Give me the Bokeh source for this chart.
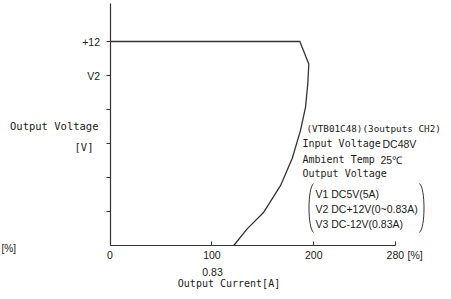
from bokeh.plotting import figure
from bokeh.models import Range1d, FixedTicker, Label
from bokeh.embed import file_html
from bokeh.resources import INLINE

# ---- data ----
current_pct = [0, 186.3, 195.1, 194.1, 191.9, 186.9, 178.8, 167.3, 150.9, 134.6, 121.5]
voltage_lvl = [6, 6, 5.34, 4.76, 4.07, 3.38, 2.56, 1.76, 0.98, 0.49, 0]
x_ticks = [0, 100, 200, 280]
x_tick_labels = {0: "0", 100: "100", 200: "200", 280: "280"}
y_ticks = [1, 2, 3, 4, 5, 6]
y_tick_labels = {1: "", 2: "", 3: "", 4: "", 5: "V2", 6: "+12"}
info_lines = ["(VTB01C48)(3outputs CH2)", "Input Voltage", "Ambient Temp", "Output Voltage"]
info_values = ["DC48V", "25℃"]
bracket_lines = ["V1 DC5V(5A)", "V2 DC+12V(0~0.83A)", "V3 DC-12V(0.83A)"]

W, H = 443, 291
X0, Y0 = 109.5, 245.0   # pixel position of the origin
XS = 1.019               # px per x unit
YS = 34.0                # px per y unit

p = figure(width=W, height=H, output_backend="svg", toolbar_location=None,
           x_range=Range1d(-X0 / XS, (W - X0) / XS),
           y_range=Range1d(-(H - Y0) / YS, Y0 / YS),
           min_border_left=0, min_border_right=0, min_border_top=0, min_border_bottom=0)
p.outline_line_color = None
p.grid.visible = False
p.background_fill_color = "white"
p.border_fill_color = "white"

LC = "#333333"
TC = "#1a1a1a"
MONO = "DejaVu Sans Mono"
SANS = "Liberation Sans"

xa = p.xaxis[0]
xa.fixed_location = 0
xa.ticker = FixedTicker(ticks=x_ticks)
xa.major_label_overrides = x_tick_labels
xa.bounds = (0, 280)
xa.major_tick_in = 4
xa.major_tick_out = 0
xa.minor_tick_line_color = None
xa.axis_line_color = LC
xa.axis_line_width = 1.2
xa.major_tick_line_color = LC
xa.major_label_text_font = SANS
xa.major_label_text_font_size = "10.5px"
xa.major_label_text_color = TC
xa.major_label_standoff = 5

ya = p.yaxis[0]
ya.fixed_location = 0
ya.ticker = FixedTicker(ticks=y_ticks)
ya.major_label_overrides = y_tick_labels
ya.bounds = (0, (Y0 - 3) / YS)
ya.major_tick_in = 0
ya.major_tick_out = 4
ya.minor_tick_line_color = None
ya.axis_line_color = LC
ya.axis_line_width = 1.2
ya.major_tick_line_color = LC
ya.major_label_text_font = SANS
ya.major_label_text_font_size = "10.5px"
ya.major_label_text_color = TC
ya.major_label_standoff = 6

p.line(current_pct, voltage_lvl, line_color=LC, line_width=1.3)


def dx(px):
    return (px - X0) / XS


def dy(py):
    return (Y0 - py) / YS


def lab(text, px, py, font=MONO, size="10.5px", align="left"):
    p.add_layout(Label(x=dx(px), y=dy(py), text=text, text_font=font,
                       text_font_size=size, text_color=TC, text_align=align,
                       text_baseline="middle"))


# axis titles and extra tick texts
lab("Output Voltage", 98, 125, align="right")
lab("[V]", 93, 146, align="right")
lab("[%]", 1, 248, font=SANS, size="10px")
lab("[%]", 407, 254, font=SANS)
lab("0.83", 212, 271, font=SANS, align="center")
lab("Output Current[A]", 228.5, 283, size="10px", align="center")

# info block
lab(info_lines[0], 306, 128, size="9.3px")
lab(info_lines[1], 302, 143, size="10px")
lab(info_values[0], 382, 143, font=SANS, size="10.5px")
lab(info_lines[2], 302, 159, size="10px")
lab(info_values[1], 380, 159, font=SANS, size="10.5px")
lab(info_lines[3], 302, 173, size="10px")
for i, t in enumerate(bracket_lines):
    lab(t, 315, 193 + 15 * i, font=SANS, size="10.5px")

# brackets
p.bezier(x0=[dx(313), dx(419)], y0=[dy(183), dy(183)],
         x1=[dx(313), dx(419)], y1=[dy(232), dy(232)],
         cx0=[dx(307), dx(425)], cy0=[dy(188), dy(188)],
         cx1=[dx(307), dx(425)], cy1=[dy(227), dy(227)],
         line_color=LC, line_width=1)

open("out.html", "w").write(file_html(p, INLINE))
